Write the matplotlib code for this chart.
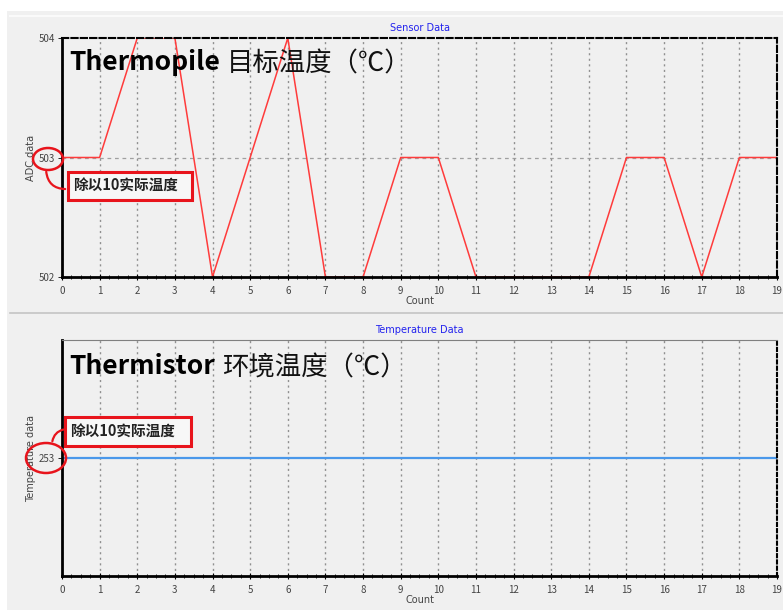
import matplotlib
matplotlib.use("Agg")
import matplotlib.pyplot as plt
from matplotlib.patches import Ellipse, Rectangle, FancyArrowPatch
from matplotlib.ticker import MultipleLocator

plt.rcParams['font.family'] = ['Noto Sans CJK SC', 'DejaVu Sans']

count = list(range(20))
adc_data = [503, 503, 504, 504, 502, 503, 504, 502, 502, 503,
            503, 502, 502, 502, 502, 503, 503, 502, 503, 503]
temp_data = [253] * 20

W, H = 783, 610
BG = "#f0f0f0"

fig = plt.figure(figsize=(W / 100, H / 100), dpi=100)
fig.patch.set_facecolor(BG)


def fx(x):
    return x / W


def fy(y):
    return 1 - y / H


# white outer margin and panel separators
fig.add_artist(Rectangle((0, fy(11)), 1, 11 / H, transform=fig.transFigure,
                         facecolor="white", edgecolor="none"))
fig.add_artist(Rectangle((0, 0), fx(7), 1, transform=fig.transFigure,
                         facecolor="white", edgecolor="none"))
fig.add_artist(plt.Line2D([fx(10), 1], [fy(313), fy(313)], transform=fig.transFigure,
                          color="#c4c4c4", lw=1.2))
fig.add_artist(plt.Line2D([fx(10), 1], [fy(16), fy(16)], transform=fig.transFigure,
                          color="#fafafa", lw=1.5))


def style_axis(ax, xlabel, ylabel, title):
    ax.set_facecolor(BG)
    ax.set_xlim(0, 19)
    ax.set_xticks(count)
    ax.xaxis.set_minor_locator(MultipleLocator(0.25))
    ax.tick_params(axis="x", which="major", direction="inout", length=5, width=0.8,
                   labelsize=7, labelcolor="#444444", pad=4)
    ax.tick_params(axis="x", which="minor", direction="inout", length=3, width=0.6)
    ax.tick_params(axis="y", direction="out", length=3, width=0.6,
                   labelsize=7, labelcolor="#444444", pad=2)
    ax.grid(axis="x", which="major", color="#909090", linestyle=(0, (1.5, 2.5)), lw=1.0)
    ax.spines["left"].set_linewidth(2)
    ax.spines["bottom"].set_linewidth(2)
    ax.set_xlabel(xlabel, fontsize=7, color="#444444", labelpad=0,
                  family=["DejaVu Sans"])
    ax.set_ylabel(ylabel, fontsize=7, color="#444444", labelpad=2,
                  family=["DejaVu Sans"])
    ax.set_title(title, fontsize=7, color="#2222ee", pad=5, family=["DejaVu Sans"])


# top panel: sensor data
ax1 = fig.add_axes([fx(62), fy(277), fx(777) - fx(62), fy(38) - fy(277)])
ax1.plot(count, adc_data, color="#ff3b3b", lw=1.1, zorder=2)
ax1.set_ylim(502, 504)
ax1.set_yticks([502, 503, 504])
ax1.axhline(503, color="#a0a0a0", linestyle=(0, (3, 3)), lw=0.9, zorder=1)
style_axis(ax1, "Count", "ADC data", "Sensor Data")
ax1.spines["top"].set_linestyle((0, (3, 1.5)))
ax1.spines["top"].set_linewidth(1.5)
ax1.spines["right"].set_linestyle((0, (3, 1.5)))
ax1.spines["right"].set_linewidth(1.5)

# bottom panel: temperature data
ax2 = fig.add_axes([fx(62), fy(576), fx(777) - fx(62), fy(340) - fy(576)])
ax2.plot(count, temp_data, color="#4a98ea", lw=1.6, zorder=2)
ax2.set_ylim(252, 254)
ax2.set_yticks([253])
style_axis(ax2, "Count", "Temperature data", "Temperature Data")
ax2.spines["top"].set_color("#808080")
ax2.spines["right"].set_linestyle((0, (1.5, 1.5)))
ax2.spines["right"].set_linewidth(1.5)

# overlay captions
renderer = fig.canvas.get_renderer()


def caption(x, y, latin, cjk):
    t = fig.text(fx(x), fy(y), latin, fontsize=19, color="black",
                 va="center", ha="left", fontweight="bold")
    bb = t.get_window_extent(renderer=renderer)
    fig.text(fx(bb.x1 + 7), fy(y + 2), cjk, fontsize=19, color="#111111",
             va="center", ha="left")


caption(69, 62, "Thermopile", "目标温度（℃）")
caption(69, 366, "Thermistor", "环境温度（℃）")

RED = "#e8141c"


def note_box(x0, y0, x1, y1):
    fig.add_artist(Rectangle((fx(x0), fy(y1)), fx(x1) - fx(x0), fy(y0) - fy(y1),
                             transform=fig.transFigure, facecolor="#f7f7f7",
                             edgecolor=RED, lw=2.2, zorder=5))
    fig.text(fx(x0 + 5), fy((y0 + y1) / 2), "除以10实际温度", fontsize=10.5,
             fontweight="bold", color="#222222", va="center", ha="left", zorder=6)


def ring(cx, cy, w, h):
    fig.add_artist(Ellipse((fx(cx), fy(cy)), fx(w), h / H, transform=fig.transFigure,
                           facecolor="none", edgecolor=RED, lw=1.8, zorder=5))


def hook(p0, p1, rad):
    fig.add_artist(FancyArrowPatch((fx(p0[0]), fy(p0[1])), (fx(p1[0]), fy(p1[1])),
                                   transform=fig.transFigure, arrowstyle="-",
                                   connectionstyle=f"arc3,rad={rad}",
                                   color=RED, lw=1.6, zorder=5))


ring(48, 159, 30, 22)
hook((46, 169), (68, 189), 0.5)
note_box(68, 172, 192, 200)

ring(46, 458, 40, 30)
hook((52, 444), (66, 429), -0.4)
note_box(65, 417, 191, 446)

fig.savefig("out.png", dpi=100, facecolor=fig.get_facecolor())
